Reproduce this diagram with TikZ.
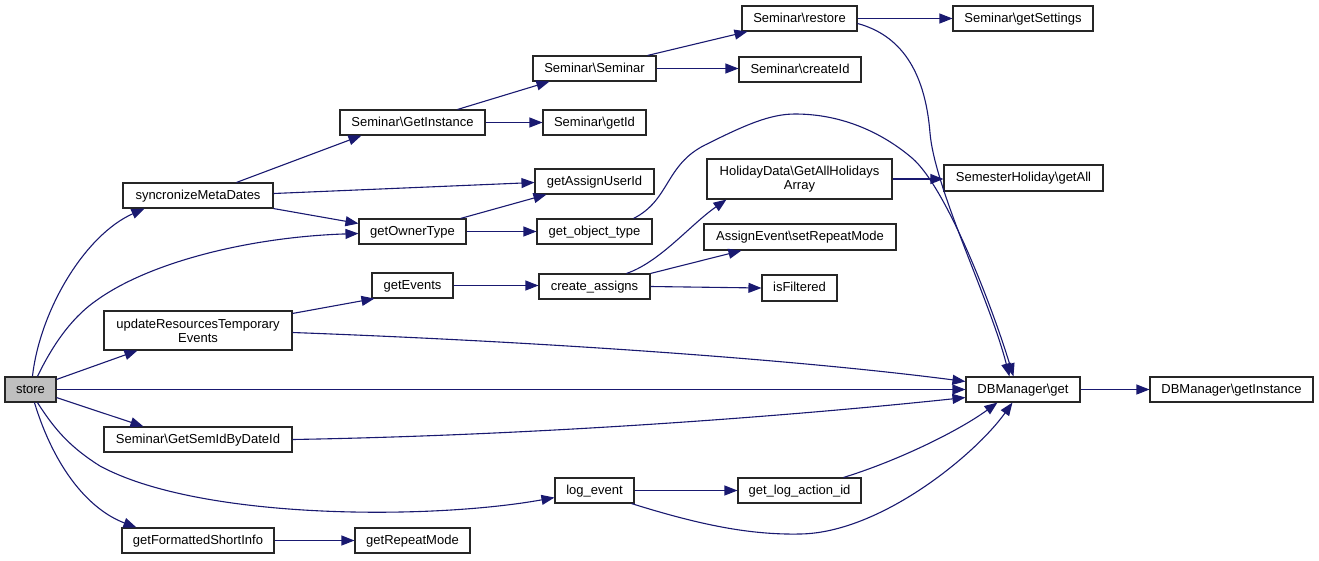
\documentclass[tikz,border=0pt]{standalone}
\usepackage{fontspec}
\setmainfont{Liberation Sans}
\usetikzlibrary{arrows.meta,calc}
\definecolor{edgecol}{HTML}{191970}
\tikzset{
  fn/.style={draw=black!85, line width=1.1pt, inner sep=0pt, align=center,
    font=\fontsize{13}{14}\selectfont, minimum height=25pt, text height=9.5pt, text depth=2.5pt},
  edge/.style={draw=edgecol, line width=1.1pt, -{Triangle[length=13pt,width=10pt]}}
}
\begin{document}
\begin{tikzpicture}[x=1pt,y=-1pt]
\useasboundingbox (0,0) rectangle (1319,560);
% nodes
\node[fn, fill=black!25, minimum width=51pt] (store) at (30.5,389.5) {store};
\node[fn, minimum width=150pt] (sync) at (198,195.5) {syncronizeMetaDates};
\node[fn, minimum width=188pt, minimum height=39pt, text height=, text depth=] (update) at (198,330.5) {updateResourcesTemporary\\Events};
\node[fn, minimum width=188pt] (semid) at (198,439.5) {Seminar\textbackslash GetSemIdByDateId};
\node[fn, minimum width=152pt] (fmt) at (198,540.5) {getFormattedShortInfo};
\node[fn, minimum width=145pt] (getinst) at (412.5,122.5) {Seminar\textbackslash GetInstance};
\node[fn, minimum width=107pt] (owner) at (412.5,231.5) {getOwnerType};
\node[fn, minimum width=81pt] (getevents) at (412.5,285.5) {getEvents};
\node[fn, minimum width=115pt] (repeat) at (412.5,540.5) {getRepeatMode};
\node[fn, minimum width=79pt] (logevent) at (594.5,490.5) {log\_event};
\node[fn, minimum width=123pt] (seminar) at (594.5,68.5) {Seminar\textbackslash Seminar};
\node[fn, minimum width=103pt] (getid) at (594.5,122.5) {Seminar\textbackslash getId};
\node[fn, minimum width=119pt] (assignuid) at (594.5,181.5) {getAssignUserId};
\node[fn, minimum width=115pt] (objtype) at (594.5,231.5) {get\_object\_type};
\node[fn, minimum width=111pt] (createas) at (594.5,286.5) {create\_assigns};
\node[fn, minimum width=115pt] (restore) at (799.5,18.5) {Seminar\textbackslash restore};
\node[fn, minimum width=122pt] (createid) at (800,69.5) {Seminar\textbackslash createId};
\node[fn, minimum width=185pt, minimum height=40pt, text height=, text depth=] (holiday) at (799.5,179) {HolidayData\textbackslash GetAllHolidays\\Array};
\node[fn, minimum width=192pt, minimum height=26pt] (setrepeat) at (800,237) {AssignEvent\textbackslash setRepeatMode};
\node[fn, minimum width=75pt, minimum height=26pt] (isfilt) at (799.5,288) {isFiltered};
\node[fn, minimum width=123pt] (logaction) at (799.5,490.5) {get\_log\_action\_id};
\node[fn, minimum width=140pt] (settings) at (1023,18.5) {Seminar\textbackslash getSettings};
\node[fn, minimum width=159pt, minimum height=26pt] (semholiday) at (1023.5,178) {SemesterHoliday\textbackslash getAll};
\node[fn, minimum width=114pt] (dbget) at (1023,389.5) {DBManager\textbackslash get};
\node[fn, minimum width=163pt] (dbinst) at (1231.5,389.5) {DBManager\textbackslash getInstance};
% edges from store
\draw[edge] ($(store.north west)+(28,0)$) .. controls (40,310) and (85,235) .. ($(sync.south west)+(22,0)$);
\draw[edge] ($(store.north west)+(33,0)$) .. controls (55,340) and (75,315) .. (97,300) .. controls (150,262) and (250,237) .. ($(owner.west)+(0,2)$);
\draw[edge] ($(store.north east)+(0,3)$) -- ($(update.south west)+(34,0)$);
\draw[edge] (store.east) -- (dbget.west);
\draw[edge] ($(store.south east)+(0,-5)$) -- ($(semid.north west)+(40,0)$);
\draw[edge] ($(store.south west)+(33,0)$) .. controls (55,430) and (70,447) .. (100,466) .. controls (200,520) and (430,520) .. ($(logevent.south west)+(0,-6)$);
\draw[edge] ($(store.south west)+(30,0)$) .. controls (55,470) and (90,510) .. ($(fmt.north west)+(15,0)$);
% second level
\draw[edge] ($(sync.north west)+(114,0)$) -- ($(getinst.south west)+(22,0)$);
\draw[edge] ($(sync.east)+(0,-2)$) -- ($(assignuid.west)+(0,1)$);
\draw[edge] (sync.south east) -- ($(owner.west)+(0,-8)$);
\draw[edge] ($(update.north east)+(0,3)$) -- ($(getevents.south west)+(3,0)$);
\draw[edge] ($(update.east)+(0,2)$) .. controls (550,342) and (800,360) .. ($(dbget.west)+(0,-8)$);
\draw[edge] (semid.east) .. controls (550,435) and (800,415) .. ($(dbget.west)+(0,8)$);
\draw[edge] (fmt.east) -- (repeat.west);
% third level
\draw[edge] ($(getinst.north east)+(-28,0)$) -- ($(seminar.south west)+(17,0)$);
\draw[edge] (getinst.east) -- (getid.west);
\draw[edge] ($(owner.north east)+(-6,0)$) -- ($(assignuid.south west)+(12,0)$);
\draw[edge] (owner.east) -- (objtype.west);
\draw[edge] (getevents.east) -- (createas.west |- getevents.east);
\draw[edge] (logevent.east) -- (logaction.west);
\draw[edge] ($(logevent.south east)+(-3,0)$) .. controls (700,525) and (750,535) .. (800,534) .. controls (880,533) and (975,455) .. ($(dbget.south west)+(47,0)$);
% fourth level
\draw[edge] ($(seminar.north east)+(-9,0)$) -- ($(restore.south west)+(6,0)$);
\draw[edge] (seminar.east) -- (createid.west |- seminar.east);
\draw[edge] ($(objtype.north east)+(-19,0)$) .. controls (670,200) and (665,165) .. (705,145) .. controls (745,125) and (770,114) .. (795,114) .. controls (845,114) and (885,135) .. (912,158) .. controls (945,186) and (990,300) .. ($(dbget.north west)+(48,0)$);
\draw[edge] ($(createas.north west)+(88,0)$) .. controls (660,262) and (690,225) .. ($(holiday.south west)+(20,0)$);
\draw[edge] (createas.north east) -- ($(setrepeat.south west)+(38,0)$);
\draw[edge] (createas.east) -- (isfilt.west);
% fifth level
\draw[edge] (restore.east) -- (settings.west);
\draw[edge] ($(restore.east)+(0,5)$) .. controls (900,35) and (925,70) .. (930,133) .. controls (935,190) and (990,300) .. ($(dbget.north west)+(44,0)$);
\draw[edge] (holiday.east) -- (semholiday.west |- holiday.east);
\draw[edge] ($(logaction.north east)+(-18,0)$) .. controls (900,460) and (960,430) .. ($(dbget.south west)+(32,0)$);
\draw[edge] (dbget.east) -- (dbinst.west);
\end{tikzpicture}
\end{document}
